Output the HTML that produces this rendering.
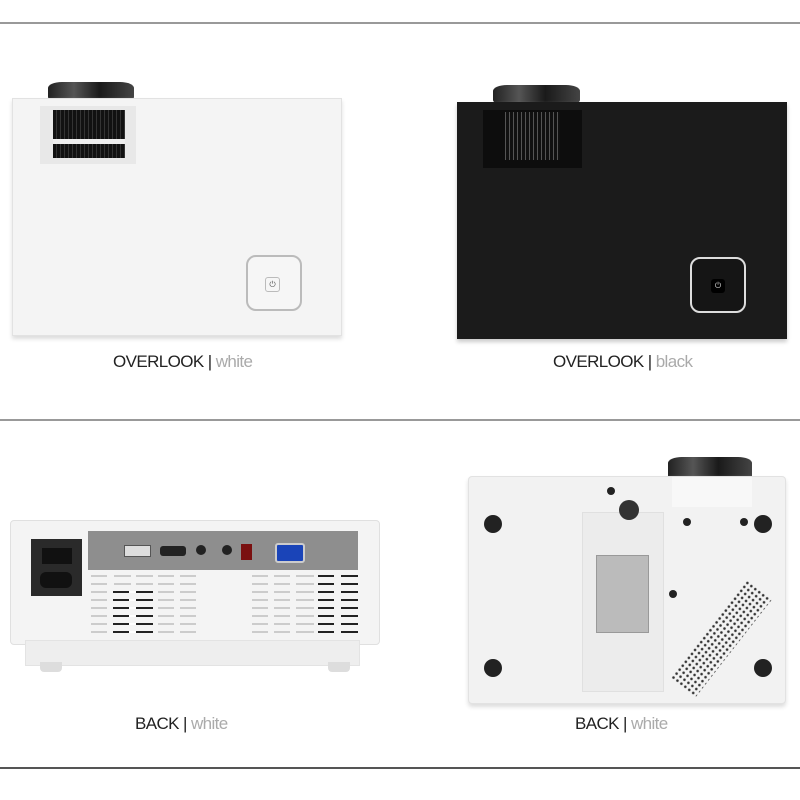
<!DOCTYPE html>
<html><head><meta charset="utf-8"><style>
*{margin:0;padding:0;box-sizing:border-box}
body{width:800px;height:800px;background:#fff;position:relative;overflow:hidden;font-family:"Liberation Sans",sans-serif}
div{position:absolute}
.lbl{font-size:17px;color:#222;letter-spacing:-0.6px;white-space:nowrap}
.lbl span{color:#aaa}
.dot{border-radius:50%;background:#222}
.cap{border-radius:14px 14px 4px 4px/6px 6px 3px 3px;background:linear-gradient(90deg,#222,#555 30%,#1a1a1a 60%,#444)}
</style></head><body>
<div style="left:0;top:22px;width:800px;height:2px;background:#999"></div>
<div style="left:0;top:419px;width:800px;height:2px;background:#999"></div>
<div style="left:0;top:767px;width:800px;height:2px;background:#555"></div>

<!-- top-left white -->
<div class="cap" style="left:48px;top:82px;width:86px;height:18px"></div>
<div style="left:12px;top:98px;width:330px;height:238px;background:#f4f4f4;border:1px solid #e2e2e2;box-shadow:0 3px 4px #ddd"></div>
<div style="left:40px;top:106px;width:96px;height:58px;background:#e8e8e8"></div>
<div style="left:53px;top:110px;width:72px;height:48px;background:repeating-linear-gradient(90deg,#111 0 3px,#333 3px 4px)"></div>
<div style="left:53px;top:139px;width:72px;height:5px;background:#eee"></div>
<div style="left:246px;top:255px;width:56px;height:56px;border:2px solid #bbb;border-radius:10px;background:#f6f6f6"></div>
<div style="left:265px;top:277px;width:15px;height:15px;border:1px solid #bbb;border-radius:3px;font-size:8px;text-align:center;line-height:13px;color:#555">⏻</div>
<div class="lbl" style="left:113px;top:352px">OVERLOOK | <span>white</span></div>

<!-- top-right black -->
<div class="cap" style="left:493px;top:85px;width:87px;height:18px"></div>
<div style="left:457px;top:102px;width:330px;height:237px;background:#1b1b1b;box-shadow:0 3px 4px #ccc"></div>
<div style="left:483px;top:110px;width:99px;height:58px;background:#0d0d0d"></div>
<div style="left:505px;top:112px;width:55px;height:48px;background:repeating-linear-gradient(90deg,#555 0 1px,#111 1px 4px)"></div>
<div style="left:690px;top:257px;width:56px;height:56px;border:2px solid #ddd;border-radius:10px;background:#151515"></div>
<div style="left:711px;top:279px;width:14px;height:14px;background:#000;border-radius:3px;font-size:8px;color:#ddd;text-align:center;line-height:14px">⏻</div>
<div class="lbl" style="left:553px;top:352px">OVERLOOK | <span>black</span></div>

<!-- bottom-left back -->
<div style="left:10px;top:520px;width:370px;height:125px;background:#f4f4f4;border:1px solid #e0e0e0;border-radius:4px"></div>
<div style="left:25px;top:640px;width:335px;height:26px;background:#eee;border:1px solid #e3e3e3"></div>
<div style="left:40px;top:662px;width:22px;height:10px;background:#ddd;border-radius:0 0 4px 4px"></div>
<div style="left:328px;top:662px;width:22px;height:10px;background:#ddd;border-radius:0 0 4px 4px"></div>
<div style="left:31px;top:539px;width:51px;height:57px;background:#2a2a2a"></div>
<div style="left:42px;top:548px;width:30px;height:16px;background:#111"></div>
<div style="left:40px;top:572px;width:32px;height:16px;background:#111;border-radius:6px"></div>
<div style="left:88px;top:531px;width:270px;height:39px;background:#8e8e8e"></div>
<div style="left:124px;top:545px;width:27px;height:12px;background:#ddd;border:1px solid #555"></div>
<div style="left:160px;top:546px;width:26px;height:10px;background:#222;border-radius:3px"></div>
<div class="dot" style="left:196px;top:545px;width:10px;height:10px"></div>
<div class="dot" style="left:222px;top:545px;width:10px;height:10px"></div>
<div style="left:241px;top:544px;width:11px;height:16px;background:#7a1010"></div>
<div style="left:275px;top:543px;width:30px;height:20px;background:#1a44b8;border:2px solid #ccc;border-radius:3px"></div>
<div style="left:91px;top:575px;width:105px;height:62px;background:linear-gradient(90deg,#ccc 0 16px,transparent 16px 23px,#ccc 23px 40px,transparent 40px 45px,#ccc 45px 62px,transparent 62px 67px,#ccc 67px 83px,transparent 83px 89px,#ccc 89px 105px);-webkit-mask:repeating-linear-gradient(180deg,#000 0 2px,transparent 2px 8px);mask:repeating-linear-gradient(180deg,#000 0 2px,transparent 2px 8px)"></div>
<div style="left:252px;top:575px;width:62px;height:62px;background:linear-gradient(90deg,#ccc 0 16px,transparent 16px 22px,#ccc 22px 38px,transparent 38px 44px,#ccc 44px 62px);-webkit-mask:repeating-linear-gradient(180deg,#000 0 2px,transparent 2px 8px);mask:repeating-linear-gradient(180deg,#000 0 2px,transparent 2px 8px)"></div>
<div style="left:113px;top:591px;width:40px;height:46px;background:linear-gradient(90deg,#222 0 16px,#fff 16px 23px,#222 23px 40px);-webkit-mask:repeating-linear-gradient(180deg,#000 0 2px,transparent 2px 8px);mask:repeating-linear-gradient(180deg,#000 0 2px,transparent 2px 8px)"></div>
<div style="left:318px;top:575px;width:40px;height:62px;background:linear-gradient(90deg,#222 0 16px,#f4f4f4 16px 23px,#222 23px 40px);-webkit-mask:repeating-linear-gradient(180deg,#000 0 2px,transparent 2px 8px);mask:repeating-linear-gradient(180deg,#000 0 2px,transparent 2px 8px)"></div>
<div class="lbl" style="left:135px;top:714px">BACK | <span>white</span></div>

<!-- bottom-right bottom view -->
<div class="cap" style="left:668px;top:457px;width:84px;height:22px"></div>
<div style="left:468px;top:476px;width:318px;height:228px;background:#f2f2f2;border:1px solid #e2e2e2;border-radius:4px;box-shadow:0 3px 4px #ddd"></div>
<div style="left:672px;top:477px;width:80px;height:30px;background:#f8f8f8"></div>
<div style="left:582px;top:512px;width:82px;height:180px;background:#ececec;border:1px solid #e0e0e0"></div>
<div style="left:596px;top:555px;width:53px;height:78px;background:#bbb;border:1px solid #999"></div>
<div class="dot" style="left:619px;top:500px;width:20px;height:20px;background:#333"></div>
<div class="dot" style="left:484px;top:515px;width:18px;height:18px"></div>
<div class="dot" style="left:754px;top:515px;width:18px;height:18px"></div>
<div class="dot" style="left:484px;top:659px;width:18px;height:18px"></div>
<div class="dot" style="left:754px;top:659px;width:18px;height:18px"></div>
<div class="dot" style="left:607px;top:487px;width:8px;height:8px"></div>
<div class="dot" style="left:683px;top:518px;width:8px;height:8px"></div>
<div class="dot" style="left:740px;top:518px;width:8px;height:8px"></div>
<div class="dot" style="left:669px;top:590px;width:8px;height:8px"></div>
<div style="left:670px;top:678px;width:125px;height:32px;transform:rotate(-52deg);transform-origin:left top;background:radial-gradient(#333 1px,transparent 1.6px) 0 0/5px 5px"></div>
<div class="lbl" style="left:575px;top:714px">BACK | <span>white</span></div>
</body></html>
